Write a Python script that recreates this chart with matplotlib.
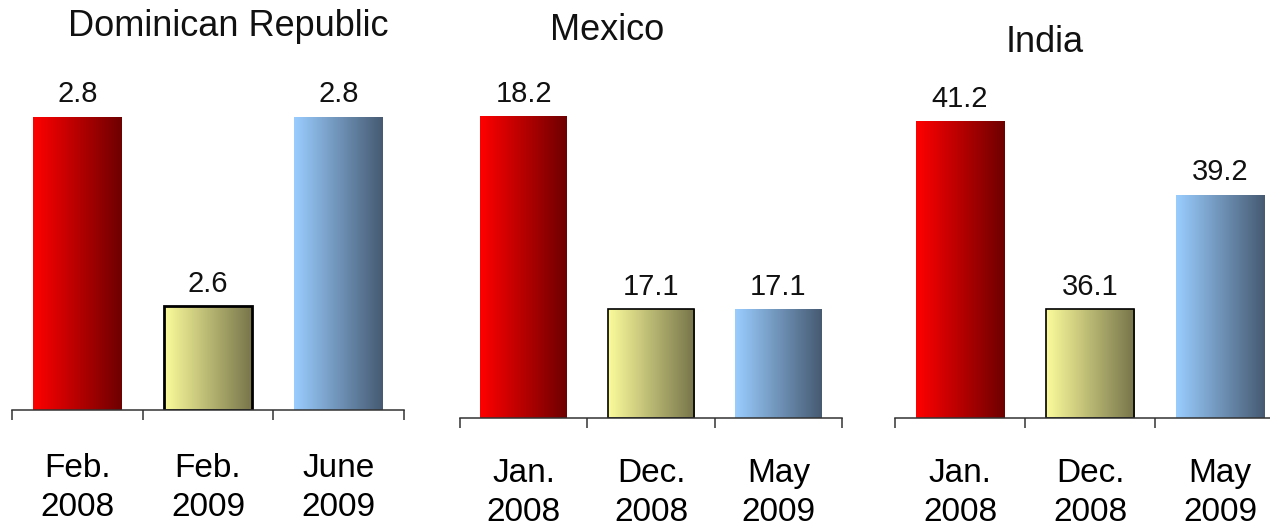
import numpy as np
import matplotlib
matplotlib.use('Agg')
import matplotlib.pyplot as plt
from matplotlib.colors import LinearSegmentedColormap

plt.rcParams['font.family'] = ['Liberation Sans', 'DejaVu Sans']

### data
countries = ['Dominican Republic', 'Mexico', 'India']
periods = [
    ['Feb.\n2008', 'Feb.\n2009', 'June\n2009'],
    ['Jan.\n2008', 'Dec.\n2008', 'May\n2009'],
    ['Jan.\n2008', 'Dec.\n2008', 'May\n2009'],
]
values = [
    [2.8, 2.6, 2.8],
    [18.2, 17.1, 17.1],
    [41.2, 36.1, 39.2],
]
# truncated value axis for each panel
y_ranges = [(2.49, 2.86), (16.48, 18.52), (33.14, 42.85)]

### styling
gradients = [('#ff0000', '#6e0000'), ('#fcfc9c', '#76744a'), ('#9acdff', '#465a72')]
W, H = 1270, 529
# axes rects in pixels: left, baseline (from top), width, top (from top)
rects = [(12, 410, 392, 60), (460, 418, 382, 60), (895, 418, 390, 60)]
titles_xy = [(228, 26), (607, 31), (1045, 43)]
yellow_lw = [2.0, 1.2, 1.2]

fig = plt.figure(figsize=(W / 100, H / 100), dpi=100)

for k in range(3):
    left, base, width, top = rects[k]
    ax = fig.add_axes([left / W, (H - base) / H, width / W, (base - top) / H])
    ymin, ymax = y_ranges[k]
    xs = np.arange(3)
    bars = ax.bar(xs, [v - ymin for v in values[k]], bottom=ymin, width=0.68,
                  facecolor='none', edgecolor='none', zorder=2)
    for i, patch in enumerate(bars.patches):
        cmap = LinearSegmentedColormap.from_list('g', gradients[i])
        x0, y0 = patch.get_x(), patch.get_y()
        x1, y1 = x0 + patch.get_width(), y0 + patch.get_height()
        img = ax.imshow(np.linspace(0, 1, 256).reshape(1, -1), cmap=cmap,
                        extent=[x0, x1, y0, y1], aspect='auto', zorder=1)
        img.set_clip_path(patch)
        if i == 1:
            patch.set_edgecolor('black')
            patch.set_linewidth(yellow_lw[k])
        ax.annotate(f'{values[k][i]}', (xs[i], values[k][i]), xytext=(0, 6),
                    textcoords='offset points', ha='center', va='bottom',
                    fontsize=21, color='#111111')

    ax.set_xlim(-0.5, 2.5)
    ax.set_ylim(ymin, ymax)
    for s in ['top', 'right', 'left']:
        ax.spines[s].set_visible(False)
    ax.spines['bottom'].set_color('#333333')
    ax.spines['bottom'].set_linewidth(1.1)
    ax.set_yticks([])
    ax.set_xticks(xs, periods[k], fontsize=24, linespacing=1.32)
    ax.tick_params(axis='x', which='major', length=0, pad=31 if k == 0 else 29)
    ax.set_xticks([-0.5, 0.5, 1.5, 2.5], minor=True)
    ax.tick_params(axis='x', which='minor', length=7.5, width=1.1,
                   color='#333333', direction='out')
    ax.patch.set_alpha(0)

    tx, ty = titles_xy[k]
    fig.text(tx / W, 1 - ty / H, countries[k], ha='center', va='center',
             fontsize=26, color='#111111')

fig.savefig('out.png', dpi=100)
